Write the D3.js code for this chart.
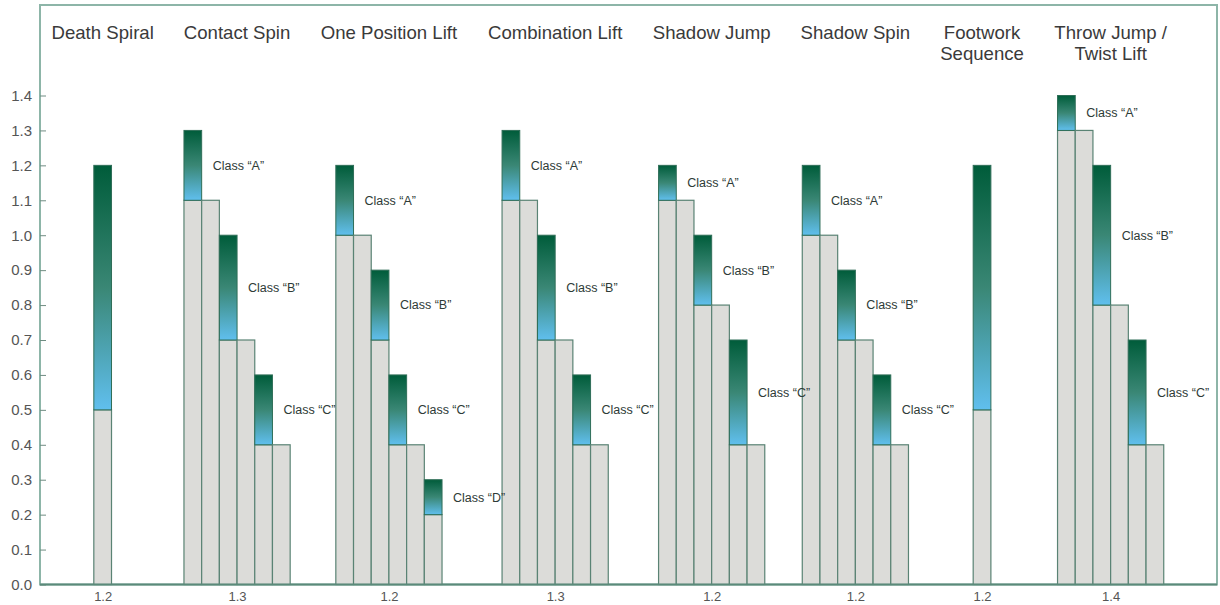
<!DOCTYPE html>
<html>
<head>
<meta charset="utf-8">
<script src="https://cdn.jsdelivr.net/npm/d3@7"></script>
<style>
  body { margin: 0; background: #fff; }
  text { font-family: "Liberation Sans", Arial, sans-serif; }
</style>
</head>
<body>
<script>
// element names (title lines) and the value printed under each group
var groupTitles = [
  ["Death Spiral"], ["Contact Spin"], ["One Position Lift"], ["Combination Lift"],
  ["Shadow Jump"], ["Shadow Spin"], ["Footwork", "Sequence"], ["Throw Jump /", "Twist Lift"]
];
var axisLabels = ["1.2", "1.3", "1.2", "1.3", "1.2", "1.2", "1.2", "1.4"];

// grey part of every bar (0 -> base)
var baseValues = [
  [0.5],
  [1.1, 1.1, 0.7, 0.7, 0.4, 0.4],
  [1.0, 1.0, 0.7, 0.4, 0.4, 0.2],
  [1.1, 1.1, 0.7, 0.7, 0.4, 0.4],
  [1.1, 1.1, 0.8, 0.8, 0.4, 0.4],
  [1.0, 1.0, 0.7, 0.7, 0.4, 0.4],
  [0.5],
  [1.3, 1.3, 0.8, 0.8, 0.4, 0.4]
];
// gradient part (base -> top), null = no gradient
var topValues = [
  [1.2],
  [1.3, null, 1.0, null, 0.6, null],
  [1.2, null, 0.9, 0.6, null, 0.3],
  [1.3, null, 1.0, null, 0.6, null],
  [1.2, null, 1.0, null, 0.7, null],
  [1.2, null, 0.9, null, 0.6, null],
  [1.2],
  [1.4, null, 1.2, null, 0.7, null]
];
var classNames = ["A", "B", "C", "D"];
var yTicks = [0, 0.1, 0.2, 0.3, 0.4, 0.5, 0.6, 0.7, 0.8, 0.9, 1.0, 1.1, 1.2, 1.3, 1.4];

var W = 1220, H = 605;
var frame = { left: 40, top: 5, right: 1217, bottom: 584.5 };
var barW = 17.7, titleStart = 51.5, titleGap = 30;

var svg = d3.select("body").append("svg")
    .attr("width", W)
    .attr("height", H);

var grad = svg.append("defs").append("linearGradient")
    .attr("id", "barGrad")
    .attr("x1", 0).attr("y1", 0).attr("x2", 0).attr("y2", 1);
grad.append("stop").attr("offset", "0%").attr("stop-color", "#005c3a");
grad.append("stop").attr("offset", "50%").attr("stop-color", "#3a8775");
grad.append("stop").attr("offset", "100%").attr("stop-color", "#60bfee");

var y = d3.scaleLinear()
    .domain([0, 1.4])
    .range([frame.bottom, 95.5]);

// titles first - group spacing follows the width of the titles
var titles = svg.selectAll(".title")
    .data(groupTitles)
    .enter().append("text")
    .attr("class", "title")
    .style("font-size", "18.6px")
    .style("fill", "#3a3a3a")
    .attr("text-anchor", "middle");

titles.selectAll("tspan")
    .data(d => d)
    .enter().append("tspan")
    .attr("x", 0)
    .attr("y", (d, i) => 38.5 + i * 21)
    .text(d => d);

var widths = [];
titles.each(function () { widths.push(this.getBBox().width); });

var centers = [], pos = titleStart;
widths.forEach(function (w) {
  centers.push(pos + w / 2);
  pos += w + titleGap;
});

var names = groupTitles.map(d => d.join(" "));
var groupX = d3.scaleOrdinal().domain(names).range(centers);

titles.selectAll("tspan").attr("x", function () {
  return groupX(d3.select(this.parentNode).datum().join(" "));
});

// frame
svg.append("rect")
    .attr("x", frame.left)
    .attr("y", frame.top)
    .attr("width", frame.right - frame.left)
    .attr("height", frame.bottom - frame.top)
    .style("fill", "none")
    .style("stroke", "#8db5a8")
    .style("stroke-width", 2);

// y axis
var yAxis = d3.axisLeft(y)
    .tickValues(yTicks)
    .tickFormat(d3.format(".1f"))
    .tickSizeInner(-6)
    .tickSizeOuter(0)
    .tickPadding(8);

var yg = svg.append("g")
    .attr("transform", "translate(" + frame.left + ",0)")
    .call(yAxis);
yg.select(".domain").remove();
yg.selectAll("line").style("stroke", "#6f8c82");
yg.selectAll("text")
    .style("font-size", "15px")
    .style("fill", "#555")
    .style("font-family", "'Liberation Sans', Arial, sans-serif");

// bars, labels go in their own layer on top
var barLayer = svg.append("g");
var labelLayer = svg.append("g");

names.forEach(function (name, gi) {
  var n = baseValues[gi].length;
  var c = groupX(name);
  var xb = d3.scaleBand()
      .domain(d3.range(n))
      .range([c - n * barW / 2, c + n * barW / 2]);
  var k = 0;

  baseValues[gi].forEach(function (base, i) {
    barLayer.append("rect")
        .attr("x", xb(i))
        .attr("y", y(base))
        .attr("width", xb.bandwidth())
        .attr("height", y(0) - y(base))
        .style("fill", "#dcdcd9")
        .style("stroke", "#5a8374")
        .style("stroke-width", 1.2);

    var top = topValues[gi][i];
    if (top != null) {
      barLayer.append("rect")
          .attr("x", xb(i))
          .attr("y", y(top))
          .attr("width", xb.bandwidth())
          .attr("height", y(base) - y(top))
          .style("fill", "url(#barGrad)")
          .style("stroke", "#2f6e58")
          .style("stroke-width", 1);

      if (n > 1) {
        labelLayer.append("text")
            .attr("x", xb(i) + xb.bandwidth() + 11)
            .attr("y", y((base + top) / 2))
            .attr("dy", "0.35em")
            .style("font-size", "12.5px")
            .style("fill", "#2e3b37")
            .text("Class \u201C" + classNames[k] + "\u201D");
        k++;
      }
    }
  });
});

// bottom axis line + group values
svg.append("line")
    .attr("x1", frame.left).attr("x2", frame.right)
    .attr("y1", frame.bottom).attr("y2", frame.bottom)
    .style("stroke", "#5b8a7a")
    .style("stroke-width", 2);

var xAxis = d3.axisBottom(groupX)
    .tickFormat((d, i) => axisLabels[i])
    .tickSize(0)
    .tickPadding(7);

var xg = svg.append("g")
    .attr("transform", "translate(0," + frame.bottom + ")")
    .call(xAxis);
xg.select(".domain").remove();
xg.selectAll("text")
    .style("font-size", "13px")
    .style("fill", "#555")
    .style("font-family", "'Liberation Sans', Arial, sans-serif");
</script>
</body>
</html>
